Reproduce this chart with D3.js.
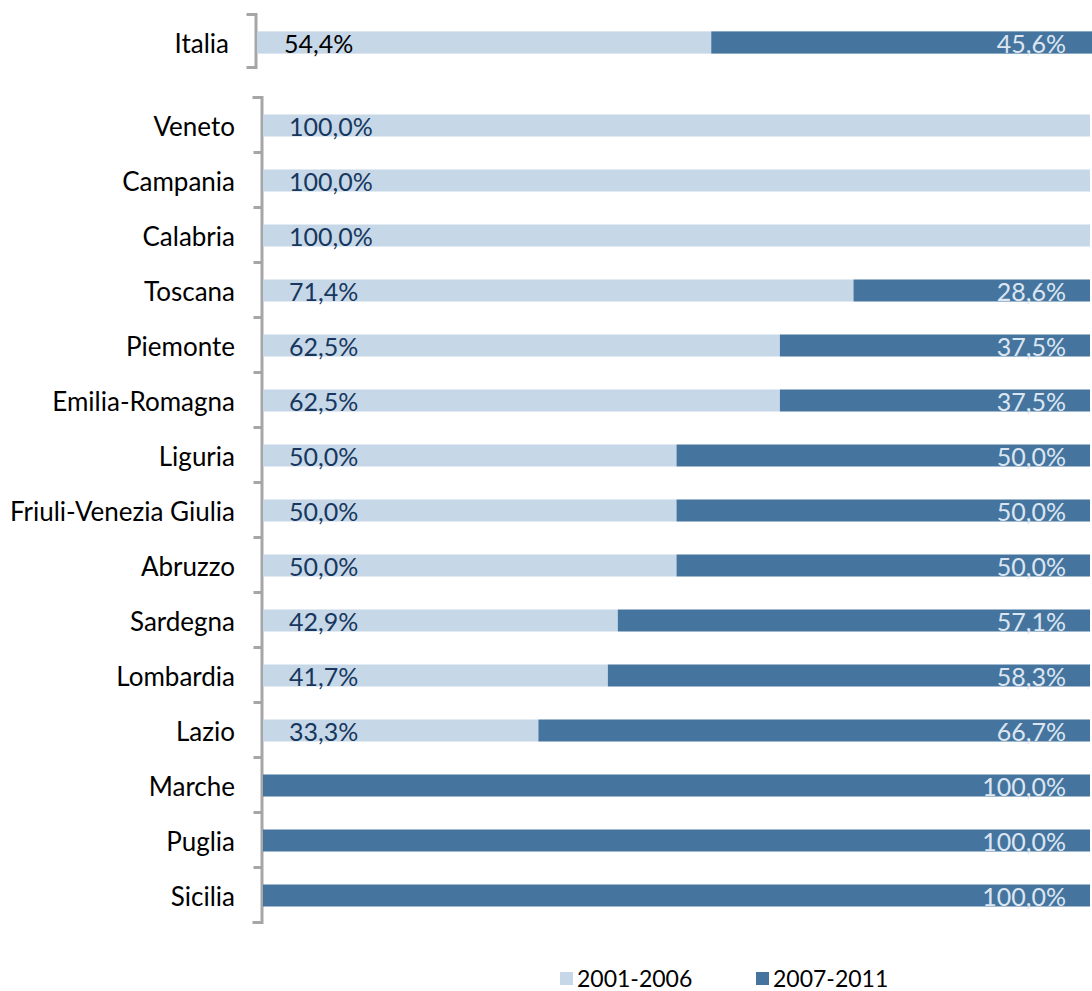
<!DOCTYPE html>
<html>
<head>
<meta charset="utf-8">
<script src="https://cdn.jsdelivr.net/npm/d3@7"></script>
<style>
  html, body { margin: 0; padding: 0; background: #fff; }
  svg { display: block; }
  text { font-family: Lato, "Open Sans", sans-serif; }
</style>
</head>
<body>
<svg id="chart" width="1092" height="991"></svg>
<script>
// Regional share of cases by period (percent of each region's total)
const regions = ["Veneto", "Campania", "Calabria", "Toscana", "Piemonte", "Emilia-Romagna",
  "Liguria", "Friuli-Venezia Giulia", "Abruzzo", "Sardegna", "Lombardia", "Lazio",
  "Marche", "Puglia", "Sicilia"];
const share2001_2006 = [100, 100, 100, 71.4, 62.5, 62.5, 50, 50, 50, 42.9, 41.7, 33.3, 0, 0, 0];
const share2007_2011 = [0, 0, 0, 28.6, 37.5, 37.5, 50, 50, 50, 57.1, 58.3, 66.7, 100, 100, 100];

// National total
const nationalLabel = ["Italia"];
const national2001_2006 = [54.4];
const national2007_2011 = [45.6];

const seriesNames = ["2001-2006", "2007-2011"];

const colLight = "#C6D8E8";
const colDark = "#45759F";
const txtDark = "#17375E";
const txtLight = "#DCE6F2";
const axisGrey = "#A6A6A6";

const locale = d3.formatLocale({ decimal: ",", thousands: ".", grouping: [3], currency: ["€", ""] });
const fmt = v => locale.format(".1f")(v) + "%";

const svg = d3.select("#chart");

function drawGroup(cats, aVals, bVals, opts) {
  const g = svg.append("g");
  const x = d3.scaleLinear().domain([0, 100]).range([opts.x0, opts.x1]);
  const y = d3.scaleBand().domain(cats).range([opts.y0 + opts.shift, opts.y1 + opts.shift])
    .paddingInner(opts.pad).paddingOuter(opts.pad / 2);

  // bracket-style axis with ticks between categories
  const idx = d3.scaleLinear().domain([0, cats.length]).range([opts.y0, opts.y1]);
  const axis = d3.axisLeft(idx)
    .tickValues(d3.range(1, cats.length))
    .tickSizeInner(8).tickSizeOuter(9)
    .tickFormat("");
  const ag = g.append("g").attr("transform", `translate(${opts.axisX},0)`).call(axis);
  ag.selectAll("path, line").attr("stroke", axisGrey).attr("stroke-width", 3);

  const rows = cats.map((c, i) => ({ c, a: aVals[i], b: bVals[i] }));

  g.selectAll(".barA").data(rows.filter(d => d.a > 0)).join("rect")
    .attr("x", x(0)).attr("y", d => y(d.c))
    .attr("width", d => x(d.a) - x(0)).attr("height", y.bandwidth())
    .attr("fill", colLight);
  g.selectAll(".barB").data(rows.filter(d => d.b > 0)).join("rect")
    .attr("x", d => x(d.a)).attr("y", d => y(d.c))
    .attr("width", d => x(d.a + d.b) - x(d.a)).attr("height", y.bandwidth())
    .attr("fill", colDark);

  // category labels
  g.selectAll(".cat").data(rows).join("text")
    .attr("x", opts.labelX).attr("y", d => y(d.c) + y.bandwidth() / 2)
    .attr("dy", "0.42em").attr("text-anchor", "end")
    .attr("font-size", 26).attr("fill", "#000")
    .text(d => d.c);

  // value labels
  g.selectAll(".valA").data(rows.filter(d => d.a > 0)).join("text")
    .attr("x", x(0) + opts.inset).attr("y", d => y(d.c) + y.bandwidth() / 2)
    .attr("dy", "0.42em").attr("font-size", 25).attr("fill", opts.leftColor)
    .text(d => fmt(d.a));
  g.selectAll(".valB").data(rows.filter(d => d.b > 0)).join("text")
    .attr("x", 1066).attr("y", d => y(d.c) + y.bandwidth() / 2)
    .attr("dy", "0.42em").attr("text-anchor", "end")
    .attr("font-size", 25).attr("fill", txtLight)
    .text(d => fmt(d.b));
}

drawGroup(nationalLabel, national2001_2006, national2007_2011, {
  x0: 257, x1: 1092, y0: 14, y1: 67, shift: 2, pad: 0.58, axisX: 255.5,
  labelX: 229, inset: 27, leftColor: "#000"
});

drawGroup(regions, share2001_2006, share2007_2011, {
  x0: 263, x1: 1090, y0: 97, y1: 922, shift: 1, pad: 0.6, axisX: 261.5,
  labelX: 235, inset: 26, leftColor: txtDark
});

// legend
const legend = svg.append("g");
const legendX = [560, 756];
const legendCols = [colLight, colDark];
seriesNames.forEach((name, i) => {
  legend.append("rect").attr("x", legendX[i]).attr("y", 972)
    .attr("width", 13).attr("height", 13).attr("fill", legendCols[i]);
  legend.append("text").attr("x", legendX[i] + 17).attr("y", 978.5)
    .attr("dy", "0.38em").attr("font-size", 23).attr("fill", "#000")
    .text(name);
});
</script>
</body>
</html>
